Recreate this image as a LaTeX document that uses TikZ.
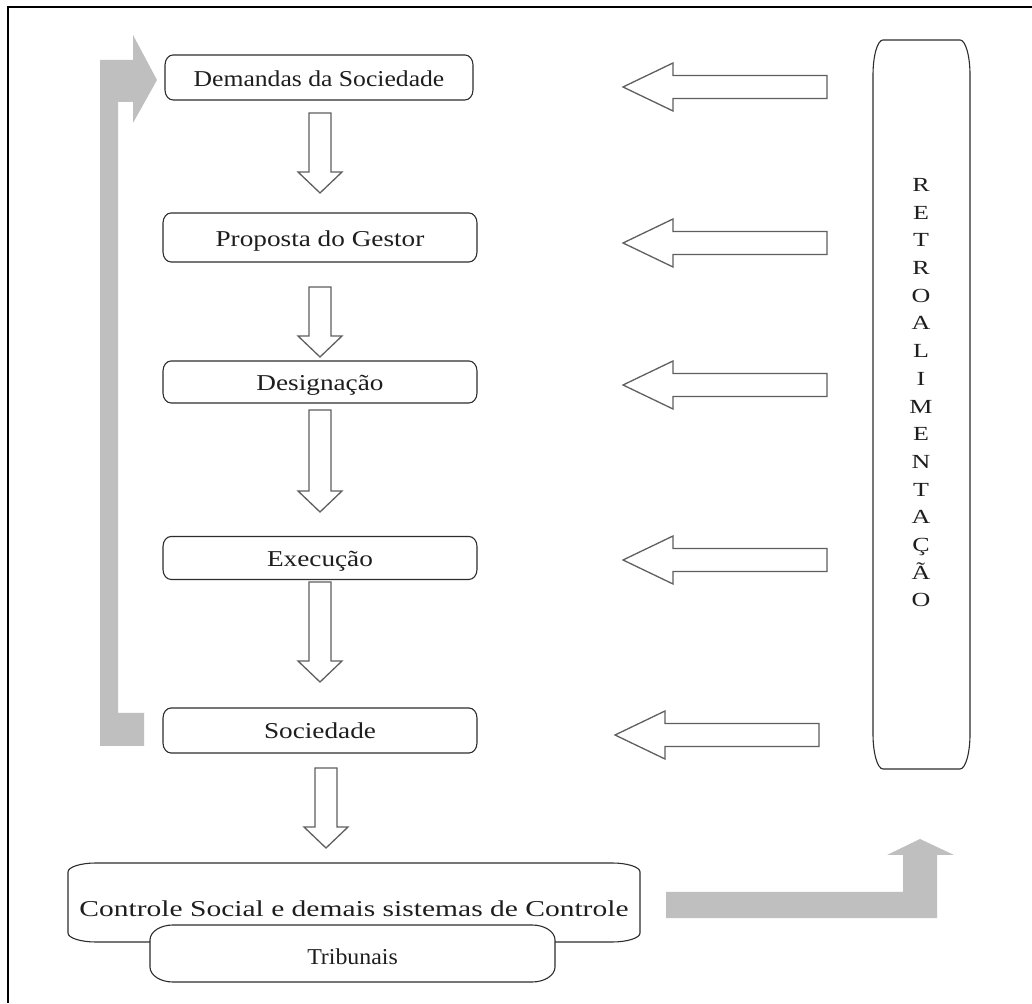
\documentclass[tikz,border=0pt]{standalone}
\usepackage{fontspec}
\setmainfont{Liberation Serif}
\usepackage{graphicx}
\usetikzlibrary{calc}
\definecolor{grayfill}{RGB}{191,191,191}
\definecolor{boxline}{RGB}{45,45,45}
\definecolor{arrline}{RGB}{95,95,95}
\definecolor{txt}{RGB}{30,30,30}
\newcommand{\softoutline}[3]{%
 \draw[boxstroke] ($(#1.north west)+(#2,0)$) -- ($(#1.north east)+(-#2,0)$)
   arc[start angle=90,end angle=0,x radius=#2,y radius=#3]
   -- ($(#1.south east)+(0,#3)$)
   arc[start angle=0,end angle=-90,x radius=#2,y radius=#3]
   -- ($(#1.south west)+(#2,0)$)
   arc[start angle=270,end angle=180,x radius=#2,y radius=#3]
   -- ($(#1.north west)+(0,-#3)$)
   arc[start angle=180,end angle=90,x radius=#2,y radius=#3] -- cycle;}
\newcommand{\downblock}[3]{%
 \draw[hollow] ({#1-11},#2) -- ({#1+11},#2) -- ({#1+11},{#3+21}) -- ({#1+22},{#3+21}) -- (#1,#3) -- ({#1-22},{#3+21}) -- ({#1-11},{#3+21}) -- cycle;}
\newcommand{\leftblock}[3]{%
 \draw[hollow] (#1,#3) -- ({#1+50},{#3+24}) -- ({#1+50},{#3+11.5}) -- (#2,{#3+11.5}) -- (#2,{#3-11.5}) -- ({#1+50},{#3-11.5}) -- ({#1+50},{#3-24}) -- cycle;}
\begin{document}
\begin{tikzpicture}[x=1pt,y=1pt,
  boxstroke/.style={draw=boxline, line width=1.1pt, fill=white},
  shapebox/.style={draw=none, inner sep=0pt, outer sep=0pt},
  lbl/.style={text=txt, inner sep=0pt, anchor=base, font=\fontsize{22.7}{26}\selectfont},
  letter/.style={text=txt, inner sep=0pt, anchor=base, font=\fontsize{20}{22}\selectfont},
  hollow/.style={draw=arrline, line width=1.3pt, fill=white, line join=miter},
  grayarrow/.style={fill=grayfill, draw=none}]
\useasboundingbox (0,0) rectangle (1032,1003);
\fill[white] (0,0) rectangle (1032,1003);
\draw[line width=2pt, black] (8,0) -- (8,996) -- (1032,996);

% gray bent arrows
\fill[grayarrow] (100,257) -- (144,257) -- (144,290) -- (118,290) -- (118,901) -- (133,901) -- (133,880) -- (157,923) -- (133,968) -- (133,943) -- (100,943) -- cycle;
\fill[grayarrow] (666,85) -- (937,85) -- (937,148) -- (954,148) -- (920,164) -- (887,148) -- (903,148) -- (903,111) -- (666,111) -- cycle;

% box shapes
\node[shapebox, minimum width=308, minimum height=45] (dem) at (319,925.5) {};
\node[shapebox, minimum width=314, minimum height=49] (prop) at (320,765.5) {};
\node[shapebox, minimum width=314, minimum height=42] (desig) at (320,621) {};
\node[shapebox, minimum width=314, minimum height=43] (exec) at (320,445) {};
\node[shapebox, minimum width=314, minimum height=45] (soc) at (320,272.5) {};
\node[shapebox, minimum width=572, minimum height=79] (ctrl) at (354,100.5) {};
\node[shapebox, minimum width=405, minimum height=57] (trib) at (352.5,49.5) {};
\node[shapebox, minimum width=97, minimum height=729] (retro) at (921.5,598.5) {};

\softoutline{dem}{8}{10}
\softoutline{prop}{8}{10}
\softoutline{desig}{8}{10}
\softoutline{exec}{8}{10}
\softoutline{soc}{8}{10}
\softoutline{ctrl}{28}{9}
\softoutline{trib}{23}{15}
\softoutline{retro}{10}{35}

% labels
\node[lbl] (demt) at ($(dem.center)+(0,-9.5)$) {\scalebox{1.13}[1]{Demandas da Sociedade}};
\node[lbl] (propt) at ($(prop.center)+(0,-9.5)$) {\scalebox{1.2}[1]{Proposta do Gestor}};
\node[lbl] (desigt) at ($(desig.center)+(0,-9)$) {\scalebox{1.2}[1]{Designação}};
\node[lbl] (exect) at ($(exec.center)+(0,-9)$) {\scalebox{1.2}[1]{Execução}};
\node[lbl] (soct) at ($(soc.center)+(0,-8.5)$) {\scalebox{1.2}[1]{Sociedade}};
\node[lbl] (ctrlt) at (354,87) {\scalebox{1.3}[1]{Controle Social e demais sistemas de Controle}};
\node[lbl] (tribt) at (352.5,39) {\scalebox{1.05}[1]{Tribunais}};

\foreach \L [count=\i from 0] in {R,E,T,R,O,A,L,I,M,E,N,T,A,Ç,Ã,O}
  \node[letter] (r\i) at (921,{811.5-27.7*\i}) {\scalebox{1.3}[1]{\L}};

% down hollow arrows
\downblock{320}{890}{810}
\downblock{320}{716}{646}
\downblock{320}{593}{491}
\downblock{320}{421}{321}
\downblock{326}{235}{155}

% left hollow arrows
\leftblock{623}{827}{916}
\leftblock{623}{827}{760}
\leftblock{623}{827}{618}
\leftblock{623}{827}{443}
\leftblock{615}{819}{268}
\end{tikzpicture}
\end{document}
